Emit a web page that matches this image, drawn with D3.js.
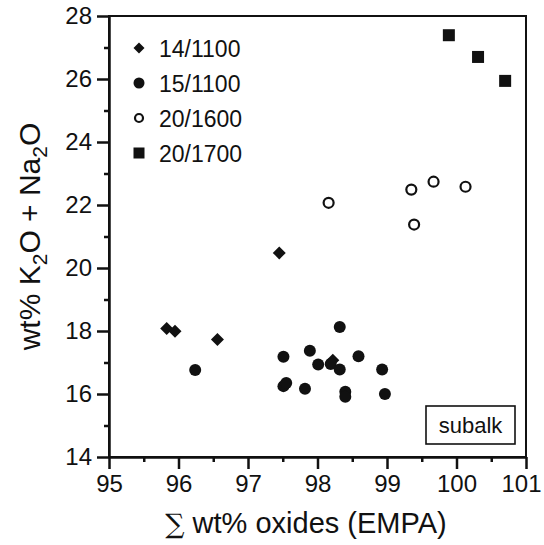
<!DOCTYPE html>
<meta charset="utf-8">
<html>
<head>
<style>
  body { margin: 0; background: #fff; }
  text { font-family: "Liberation Sans", Arial, Helvetica, sans-serif; fill: #111; }
</style>
</head>
<body>
<script src="https://d3js.org/d3.v7.min.js"></script>
<script>

// data
var seriesNames = ["14/1100", "15/1100", "20/1600", "20/1700"];
var s14x = [95.83, 95.95, 96.56, 97.45, 98.22];
var s14y = [18.08, 17.99, 17.73, 20.48, 17.07];
var s15x = [96.24, 97.51, 97.51, 97.55, 97.82, 97.89, 98.01, 98.19, 98.32, 98.32, 98.40, 98.40, 98.59, 98.93, 98.97];
var s15y = [16.76, 17.18, 16.25, 16.35, 16.17, 17.37, 16.94, 16.95, 18.13, 16.78, 16.07, 15.91, 17.20, 16.78, 16.00];
var s1600x = [98.16, 99.35, 99.67, 100.13, 99.39];
var s1600y = [22.07, 22.49, 22.74, 22.58, 21.38];
var s1700x = [99.89, 100.31, 100.70];
var s1700y = [27.39, 26.70, 25.94];
var xTicks = [95, 96, 97, 98, 99, 100, 101];
var yTicks = [14, 16, 18, 20, 22, 24, 26, 28];

var W = 544, H = 545;
var svg = d3.select("body").append("svg")
  .attr("width", W)
  .attr("height", H);

var x = d3.scaleLinear().domain([95, 101]).range([109, 526]);
var y = d3.scaleLinear().domain([14, 28]).range([457, 16]);

// frame
svg.append("rect")
  .attr("x", x(95)).attr("y", y(28))
  .attr("width", x(101) - x(95)).attr("height", y(14) - y(28))
  .attr("fill", "none").attr("stroke", "#111").attr("stroke-width", 2);

// minor ticks
svg.append("g")
  .attr("transform", "translate(0," + y(14) + ")")
  .call(d3.axisBottom(x).tickValues([95.5, 96.5, 97.5, 98.5, 99.5, 100.5]).tickSize(5).tickFormat(""))
  .call(function(g) { g.select(".domain").remove(); g.selectAll("line").attr("stroke-width", 2.5).attr("stroke", "#111"); });
svg.append("g")
  .attr("transform", "translate(" + x(95) + ",0)")
  .call(d3.axisLeft(y).tickValues([15, 17, 19, 21, 23, 25, 27]).tickSize(5).tickFormat(""))
  .call(function(g) { g.select(".domain").remove(); g.selectAll("line").attr("stroke-width", 2.5).attr("stroke", "#111"); });

// major axes
var xAxis = svg.append("g")
  .attr("transform", "translate(0," + y(14) + ")")
  .call(d3.axisBottom(x).tickValues(xTicks).tickFormat(d3.format("d")).tickSize(12).tickSizeOuter(0).tickPadding(6));
var yAxis = svg.append("g")
  .attr("transform", "translate(" + x(95) + ",0)")
  .call(d3.axisLeft(y).tickValues(yTicks).tickFormat(d3.format("d")).tickSize(12).tickSizeOuter(0).tickPadding(5));

[xAxis, yAxis].forEach(function(g) {
  g.select(".domain").attr("stroke", "#111").attr("stroke-width", 2.5);
  g.selectAll("line").attr("stroke", "#111").attr("stroke-width", 2.5);
  g.selectAll("text").style("font-size", "24px")
    .style("font-family", "'Liberation Sans', Arial, sans-serif").attr("fill", "#111");
});
// last label sits on the page edge, nudge it in
xAxis.selectAll(".tick text").filter(function(d) { return d === 101; }).attr("dx", -5);

// axis titles
var xt = svg.append("text")
  .attr("x", 306).attr("y", 533)
  .attr("text-anchor", "middle")
  .style("font-size", "29px");
xt.append("tspan").text("\u2211").style("font-family", "'DejaVu Serif', serif").style("font-size", "27px");
xt.append("tspan").text(" wt% oxides (EMPA)");

var yt = svg.append("text")
  .attr("transform", "translate(40," + ((y(14) + y(28)) / 2) + ") rotate(-90)")
  .attr("text-anchor", "middle")
  .style("font-size", "30px");
yt.append("tspan").text("wt% K");
yt.append("tspan").text("2").attr("dy", 7).style("font-size", "21px");
yt.append("tspan").text("O + Na").attr("dy", -7);
yt.append("tspan").text("2").attr("dy", 7).style("font-size", "21px");
yt.append("tspan").text("O").attr("dy", -7);

// marker shapes
function drawMarker(g, kind, cx, cy, s) {
  if (kind === 0) {
    g.append("path")
      .attr("d", "M" + cx + "," + (cy - s) + "L" + (cx + s) + "," + cy + "L" + cx + "," + (cy + s) + "L" + (cx - s) + "," + cy + "Z")
      .attr("fill", "#111");
  } else if (kind === 1) {
    g.append("circle").attr("cx", cx).attr("cy", cy).attr("r", s).attr("fill", "#111");
  } else if (kind === 2) {
    g.append("circle").attr("cx", cx).attr("cy", cy).attr("r", s - 1).attr("fill", "#fff")
      .attr("stroke", "#111").attr("stroke-width", 2.2);
  } else {
    g.append("rect").attr("x", cx - s).attr("y", cy - s).attr("width", 2 * s).attr("height", 2 * s).attr("fill", "#111");
  }
}

var allX = [s14x, s15x, s1600x, s1700x];
var allY = [s14y, s15y, s1600y, s1700y];
var sizes = [6.5, 6, 6, 6];
var pts = svg.append("g");
allX.forEach(function(xs, k) {
  xs.forEach(function(v, i) {
    drawMarker(pts, k, x(v), y(allY[k][i]), sizes[k]);
  });
});

// legend
var legend = svg.append("g");
var legSizes = [5.5, 5.5, 5, 5.5];
seriesNames.forEach(function(name, i) {
  var ly = 48 + i * 35;
  drawMarker(legend, i, 139, ly, legSizes[i]);
  legend.append("text")
    .attr("x", 159).attr("y", ly + 8.5)
    .style("font-size", "23px")
    .text(name);
});

// subalk box
svg.append("rect")
  .attr("x", 426).attr("y", 406).attr("width", 89).attr("height", 38)
  .attr("fill", "#fff").attr("stroke", "#111").attr("stroke-width", 1.6);
svg.append("text")
  .attr("x", 470.5).attr("y", 433)
  .attr("text-anchor", "middle")
  .style("font-size", "22px")
  .text("subalk");

</script>
</body>
</html>
